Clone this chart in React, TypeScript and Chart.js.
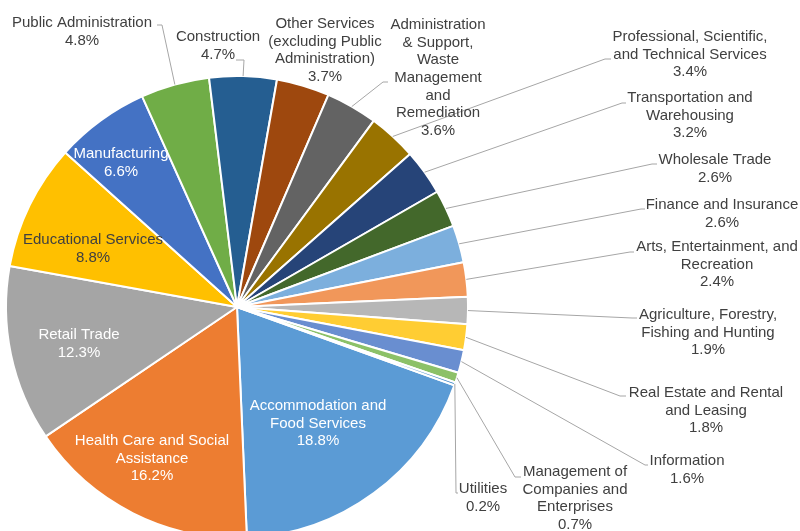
import React, { useEffect, useRef } from 'react';
import { Chart, registerables } from 'chart.js';

Chart.register(...registerables);

// ---- Data ----
const industries = [
  'Accommodation and Food Services',
  'Health Care and Social Assistance',
  'Retail Trade',
  'Educational Services',
  'Manufacturing',
  'Public Administration',
  'Construction',
  'Other Services (excluding Public Administration)',
  'Administration & Support, Waste Management and Remediation',
  'Professional, Scientific, and Technical Services',
  'Transportation and Warehousing',
  'Wholesale Trade',
  'Finance and Insurance',
  'Arts, Entertainment, and Recreation',
  'Agriculture, Forestry, Fishing and Hunting',
  'Real Estate and Rental and Leasing',
  'Information',
  'Management of Companies and Enterprises',
  'Utilities',
];
const shares = [18.8, 16.2, 12.3, 8.8, 6.6, 4.8, 4.7, 3.7, 3.6, 3.4, 3.2, 2.6, 2.6, 2.4, 1.9, 1.8, 1.6, 0.7, 0.2];

// ---- Styles ----
const sliceColors = [
  '#5B9BD5', '#ED7D31', '#A5A5A5', '#FFC000', '#4472C4', '#70AD47',
  '#255E91', '#9E480E', '#636363', '#997300', '#264478', '#43682B',
  '#7CAFDD', '#F1975A', '#B7B7B7', '#FFCD33', '#698ED0', '#8CC168', '#327DC2',
];
const FONT = '15px "Liberation Sans", Arial, sans-serif';
const LINE_H = 17.6;
const DARK = '#404040';
const LEADER = '#A6A6A6';

// ---- Label layout (wrapping, centre x, first line centre y, colour, leader elbow/end) ----
type LabelLayout = { lines: string[]; cx: number; y0: number; color: string; leader?: number[] };
const labelLayout: LabelLayout[] = [
  { lines: ['Accommodation and', 'Food Services'], cx: 318, y0: 406, color: '#FFFFFF' },
  { lines: ['Health Care and Social', 'Assistance'], cx: 152, y0: 441, color: '#FFFFFF' },
  { lines: ['Retail Trade'], cx: 79, y0: 335, color: '#FFFFFF' },
  { lines: ['Educational Services'], cx: 93, y0: 240, color: DARK },
  { lines: ['Manufacturing'], cx: 121, y0: 154, color: '#FFFFFF' },
  { lines: ['Public Administration'], cx: 82, y0: 23, color: DARK, leader: [162, 25, 157, 25] },
  { lines: ['Construction'], cx: 218, y0: 37, color: DARK, leader: [244, 60, 236, 60] },
  { lines: ['Other Services', '(excluding Public', 'Administration)'], cx: 325, y0: 24, color: DARK },
  { lines: ['Administration', '& Support,', 'Waste', 'Management', 'and', 'Remediation'], cx: 438, y0: 25, color: DARK, leader: [383, 82, 388, 82] },
  { lines: ['Professional, Scientific,', 'and Technical Services'], cx: 690, y0: 37, color: DARK, leader: [605, 59, 611, 59] },
  { lines: ['Transportation and', 'Warehousing'], cx: 690, y0: 98, color: DARK, leader: [622, 103, 626, 103] },
  { lines: ['Wholesale Trade'], cx: 715, y0: 160, color: DARK, leader: [652, 164, 657, 164] },
  { lines: ['Finance and Insurance'], cx: 722, y0: 205, color: DARK, leader: [641, 209, 645, 209] },
  { lines: ['Arts, Entertainment, and', 'Recreation'], cx: 717, y0: 247, color: DARK, leader: [630, 252, 634, 252] },
  { lines: ['Agriculture, Forestry,', 'Fishing and Hunting'], cx: 708, y0: 315, color: DARK, leader: [632, 318, 637, 318] },
  { lines: ['Real Estate and Rental', 'and Leasing'], cx: 706, y0: 393, color: DARK, leader: [620, 396, 626, 396] },
  { lines: ['Information'], cx: 687, y0: 461, color: DARK, leader: [645, 465, 648, 465] },
  { lines: ['Management of', 'Companies and', 'Enterprises'], cx: 575, y0: 472, color: DARK, leader: [515, 477, 521, 477] },
  { lines: ['Utilities'], cx: 483, y0: 489, color: DARK, leader: [456, 493, 458, 493] },
];

const labelPlugin = {
  id: 'pieLabels',
  afterDatasetsDraw(chart: any) {
    const ctx = chart.ctx as CanvasRenderingContext2D;
    const meta = chart.getDatasetMeta(0);
    const values = chart.data.datasets[0].data as number[];
    ctx.save();
    // leader lines
    ctx.strokeStyle = LEADER;
    ctx.lineWidth = 1;
    meta.data.forEach((arc: any, i: number) => {
      const lay = labelLayout[i];
      if (!lay || !lay.leader) return;
      const p = arc.getProps(['x', 'y', 'startAngle', 'endAngle', 'outerRadius'], true);
      const mid = (p.startAngle + p.endAngle) / 2;
      const ex = p.x + Math.cos(mid) * p.outerRadius;
      const ey = p.y + Math.sin(mid) * p.outerRadius;
      ctx.beginPath();
      ctx.moveTo(ex, ey);
      ctx.lineTo(lay.leader[0], lay.leader[1]);
      ctx.lineTo(lay.leader[2], lay.leader[3]);
      ctx.stroke();
    });
    // text
    ctx.font = FONT;
    ctx.textAlign = 'center';
    ctx.textBaseline = 'middle';
    labelLayout.forEach((lay, i) => {
      const all = [...lay.lines, `${values[i].toFixed(1)}%`];
      ctx.fillStyle = lay.color;
      all.forEach((t, k) => ctx.fillText(t, lay.cx, lay.y0 + k * LINE_H));
    });
    ctx.restore();
  },
};

export default function App() {
  const ref = useRef<HTMLCanvasElement | null>(null);
  useEffect(() => {
    if (!ref.current) return;
    const chart = new Chart(ref.current, {
      type: 'pie',
      data: {
        labels: industries,
        datasets: [
          {
            data: shares,
            backgroundColor: sliceColors,
            borderColor: '#FFFFFF',
            borderWidth: 2,
          },
        ],
      },
      options: {
        responsive: false,
        animation: false,
        rotation: 109.8,
        layout: { padding: { left: 5, top: 75, right: 331, bottom: 21 } },
        plugins: {
          legend: { display: false },
          title: { display: false },
          tooltip: { enabled: false },
        },
      },
      plugins: [labelPlugin],
    });
    return () => chart.destroy();
  }, []);
  return (
    <div style={{ position: 'absolute', left: 0, top: 0, width: 800, height: 531, overflow: 'hidden', background: '#FFFFFF' }}>
      <canvas ref={ref} width={800} height={560} style={{ display: 'block' }} />
    </div>
  );
}
